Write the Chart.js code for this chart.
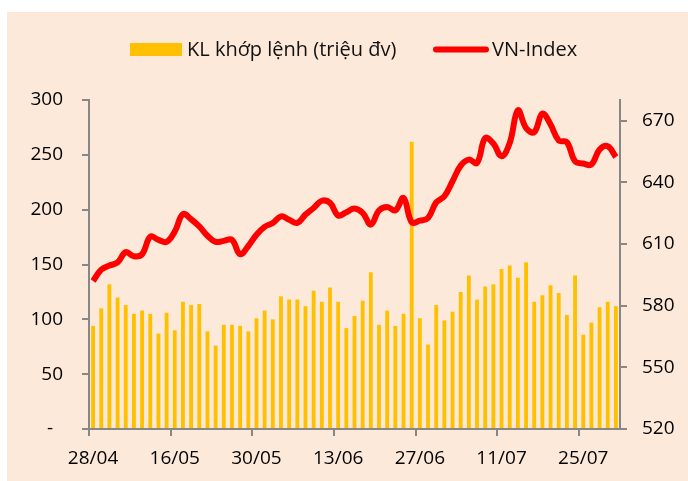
<!DOCTYPE html>
<html>
<head>
<meta charset="utf-8">
<script src="https://cdn.jsdelivr.net/npm/chart.js@4.4.1/dist/chart.umd.min.js"></script>
<style>
  html, body { margin: 0; padding: 0; background: #fff; }
  #wrap { width: 688px; height: 481px; }
</style>
</head>
<body>
<div id="wrap"><canvas id="myChart" width="688" height="481"></canvas></div>
<script>
const dates = [
  '28/04', '29/04', '04/05', '05/05', '06/05', '09/05', '10/05', '11/05', '12/05', '13/05',
  '16/05', '17/05', '18/05', '19/05', '20/05', '23/05', '24/05', '25/05', '26/05', '27/05',
  '30/05', '31/05', '01/06', '02/06', '03/06', '06/06', '07/06', '08/06', '09/06', '10/06',
  '13/06', '14/06', '15/06', '16/06', '17/06', '20/06', '21/06', '22/06', '23/06', '24/06',
  '27/06', '28/06', '29/06', '30/06', '01/07', '04/07', '05/07', '06/07', '07/07', '08/07',
  '11/07', '12/07', '13/07', '14/07', '15/07', '18/07', '19/07', '20/07', '21/07', '22/07',
  '25/07', '26/07', '27/07', '28/07', '29/07'
]
// KL khớp lệnh (triệu đv)
const volume = [
  94, 110, 132, 120, 113, 105, 108, 105, 87, 106, 90, 116, 113, 114, 89, 76, 95, 95, 94, 89, 101,
  108, 100, 121, 118, 118, 112, 126, 116, 129, 116, 92, 103, 117, 143, 95, 108, 94, 105, 262, 101, 77,
  113, 99, 107, 125, 140, 118, 130, 132, 146, 149, 138, 152, 116, 122, 131, 124, 104, 140, 86, 97, 111, 116, 112
]
const vnIndex = [
  592, 597.5, 599.5, 601, 606, 604, 605, 613.5, 612, 611, 616, 624.5, 622, 618.5, 614, 611, 611.5, 612, 605, 609,
  614.5, 618.3, 620.2, 623.4, 621.8, 620.2, 624.3, 627.5, 631, 630, 623.8, 625.4, 627.2, 625.1, 619.4, 626.3, 628, 626.3, 632.4, 620.5, 621.3, 622.6,
  630.2, 633.2, 640.5, 648.1, 651, 649.4, 661.5, 658.8, 652.6, 659.1, 675, 666.4, 664.3, 673.4, 668.1, 660.3, 659.5, 650.2, 649.1, 648.6, 655.9, 657.5, 652.3
]
const volTicks = [0, 50, 100, 150, 200, 250, 300]
const indexTicks = [520, 550, 580, 610, 640, 670]
const labelEvery = 10

const axisGray = '#878787'
const tickFont = { family: 'Open Sans', size: 19 }

// peach panel + hand placed legend
const panel = {
  id: 'panel',
  beforeDraw(chart) {
    const c = chart.ctx
    c.save()
    c.fillStyle = '#FDE9D9'
    c.fillRect(7, 12, chart.width - 7, chart.height - 12)
    c.restore()
  },
  afterDraw(chart) {
    const c = chart.ctx
    const ds = chart.data.datasets
    c.save()
    c.font = '20px "Open Sans"'
    c.textBaseline = 'alphabetic'
    c.fillStyle = ds[0].backgroundColor
    c.fillRect(130, 43, 52, 13)
    c.fillStyle = '#111'
    c.fillText(ds[0].label, 187, 56)
    c.strokeStyle = ds[1].borderColor
    c.lineWidth = 6
    c.lineCap = 'round'
    c.beginPath()
    c.moveTo(436, 49.5)
    c.lineTo(486, 49.5)
    c.stroke()
    c.fillText(ds[1].label, 492, 56)
    c.restore()
  }
}

const ctx = document.getElementById('myChart')
const myChart = new Chart(ctx, {
  type: 'bar',
  data: {
    labels: dates,
    datasets: [{
      label: 'KL khớp lệnh (triệu đv)',
      data: volume,
      backgroundColor: '#FFC000',
      barPercentage: 0.47,
      categoryPercentage: 1,
      yAxisID: 'y',
      order: 2
    }, {
      type: 'line',
      label: 'VN-Index',
      data: vnIndex,
      borderColor: '#FF0000',
      borderWidth: 6,
      tension: 0.4,
      pointRadius: 0,
      yAxisID: 'y1',
      order: 1
    }]
  },
  options: {
    responsive: false,
    animation: false,
    devicePixelRatio: 1,
    layout: { padding: { top: 100, left: 0, right: 0, bottom: 0 } },
    plugins: {
      legend: { display: false },
      tooltip: { enabled: false }
    },
    scales: {
      x: {
        offset: true,
        grid: {
          offset: true,
          drawOnChartArea: false,
          tickLength: 7,
          lineWidth: 2,
          color: (c) => (c.index % labelEvery === 0 ? axisGray : 'transparent')
        },
        border: { color: axisGray, width: 2 },
        ticks: {
          autoSkip: false,
          maxRotation: 0,
          padding: 11,
          color: '#000',
          font: tickFont,
          callback: function (v, i) { return i % labelEvery === 0 ? this.getLabelForValue(v) : '' }
        },
        afterFit: (s) => { s.height = 52 }
      },
      y: {
        position: 'left',
        min: volTicks[0],
        max: volTicks[volTicks.length - 1],
        grid: { drawOnChartArea: false, tickLength: 7, lineWidth: 2, color: axisGray },
        border: { color: axisGray, width: 2 },
        ticks: {
          padding: 19,
          color: '#000',
          font: tickFont,
          callback: (v) => (v === 0 ? '-  ' : v)
        },
        afterBuildTicks: (s) => { s.ticks = volTicks.map((v) => ({ value: v })) },
        afterFit: (s) => { s.width = 89 }
      },
      y1: {
        position: 'right',
        min: 520,
        max: 680,
        grid: { drawOnChartArea: false, tickLength: 7, lineWidth: 2, color: axisGray },
        border: { color: axisGray, width: 2 },
        ticks: { padding: 15, color: '#000', font: tickFont },
        afterBuildTicks: (s) => { s.ticks = indexTicks.map((v) => ({ value: v })) },
        afterFit: (s) => { s.width = 68 }
      }
    }
  },
  plugins: [panel]
})
</script>
</body>
</html>
